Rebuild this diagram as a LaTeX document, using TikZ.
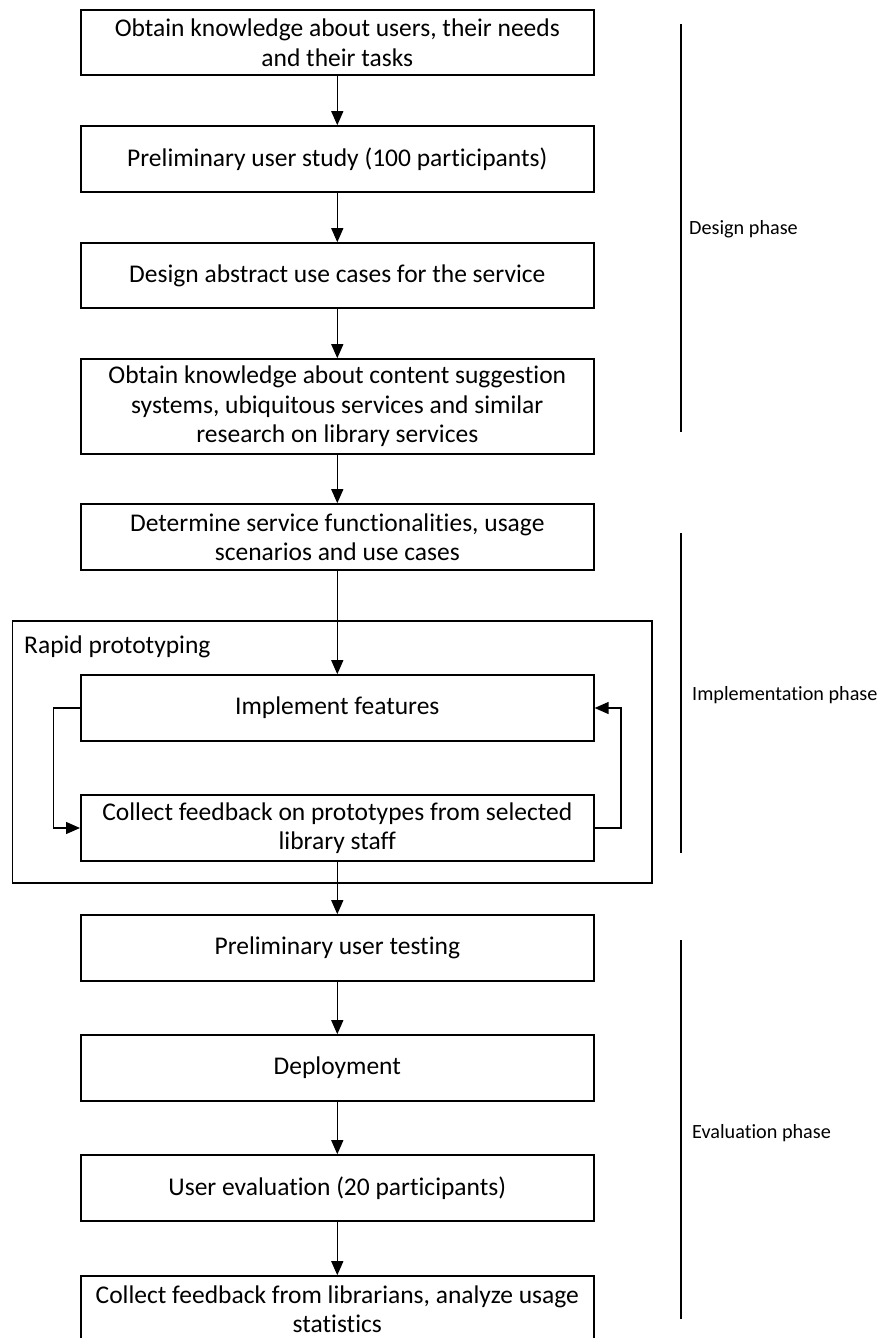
\documentclass[tikz,border=0pt]{standalone}
\usepackage{fontspec}
\setmainfont[Ligatures={NoCommon}]{Carlito}
\usetikzlibrary{arrows.meta}
\begin{document}
\begin{tikzpicture}[x=1pt,y=-1pt,
  stepbox/.style={draw, line width=1.6pt, rectangle, align=center,
    minimum width=513pt, inner sep=0pt, font=\fontsize{25.5}{29.5}\selectfont},
  flow/.style={line width=1.3pt, -{Triangle[width=12pt,length=14pt]}},
  phaseline/.style={line width=1.6pt},
  phaselabel/.style={anchor=west, inner sep=0pt, font=\fontsize{20.2}{23}\selectfont}]
\useasboundingbox (0,0) rectangle (888,1338);

% design phase
\node[stepbox, minimum height=65pt] (s1) at (337.3,42.5)
  {Obtain knowledge about users, their needs\\and their tasks};
\node[stepbox, minimum height=66pt] (s2) at (337.3,159)
  {Preliminary user study (100 participants)};
\node[stepbox, minimum height=65pt] (s3) at (337.3,275.5)
  {Design abstract use cases for the service};
\node[stepbox, minimum height=95pt] (s4) at (337.3,406.5)
  {Obtain knowledge about content suggestion\\systems, ubiquitous services and similar\\research on library services};
\node[stepbox, minimum height=66pt] (s5) at (337.3,537)
  {Determine service functionalities, usage\\scenarios and use cases};

% rapid prototyping frame
\draw[line width=1.6pt] (12.5,621) rectangle (652,883);
\node[anchor=west, inner sep=0pt, font=\fontsize{25.5}{29.5}\selectfont] (rp) at (24,647) {Rapid prototyping};
\node[stepbox, minimum height=66pt] (impl) at (337.3,708) {Implement features};
\node[stepbox, minimum height=66pt] (fb) at (337.3,828)
  {Collect feedback on prototypes from selected\\library staff};

% evaluation phase
\node[stepbox, minimum height=66pt] (e1) at (337.3,948) {Preliminary user testing};
\node[stepbox, minimum height=66pt] (e2) at (337.3,1068) {Deployment};
\node[stepbox, minimum height=66pt] (e3) at (337.3,1188) {User evaluation (20 participants)};
\node[stepbox, minimum height=66pt] (e4) at (337.3,1309)
  {Collect feedback from librarians, analyze usage\\statistics};

% main flow
\draw[flow] (s1) -- (s2);
\draw[flow] (s2) -- (s3);
\draw[flow] (s3) -- (s4);
\draw[flow] (s4) -- (s5);
\draw[flow] (s5) -- (impl);
\draw[flow] (fb) -- (e1);
\draw[flow] (e1) -- (e2);
\draw[flow] (e2) -- (e3);
\draw[flow] (e3) -- (e4);

% prototyping loop
\coordinate (lt) at (53.6,708);
\coordinate (lb) at (53.6,828);
\coordinate (rb) at (621,828);
\coordinate (rt) at (621,708);
\draw[flow] (impl.west) -- (lt) -- (lb) -- (fb.west);
\draw[flow] (fb.east) -- (rb) -- (rt) -- (impl.east);

% phase markers
\coordinate (d1) at (681,24);   \coordinate (d2) at (681,432);
\coordinate (i1) at (681,533);  \coordinate (i2) at (681,853);
\coordinate (v1) at (681,940);  \coordinate (v2) at (681,1319);
\draw[phaseline] (d1) -- (d2);
\draw[phaseline] (i1) -- (i2);
\draw[phaseline] (v1) -- (v2);
\node[phaselabel] (dl) at (689,229) {Design phase};
\node[phaselabel] (il) at (692,695) {Implementation phase};
\node[phaselabel] (vl) at (692,1133) {Evaluation phase};
\end{tikzpicture}
\end{document}
